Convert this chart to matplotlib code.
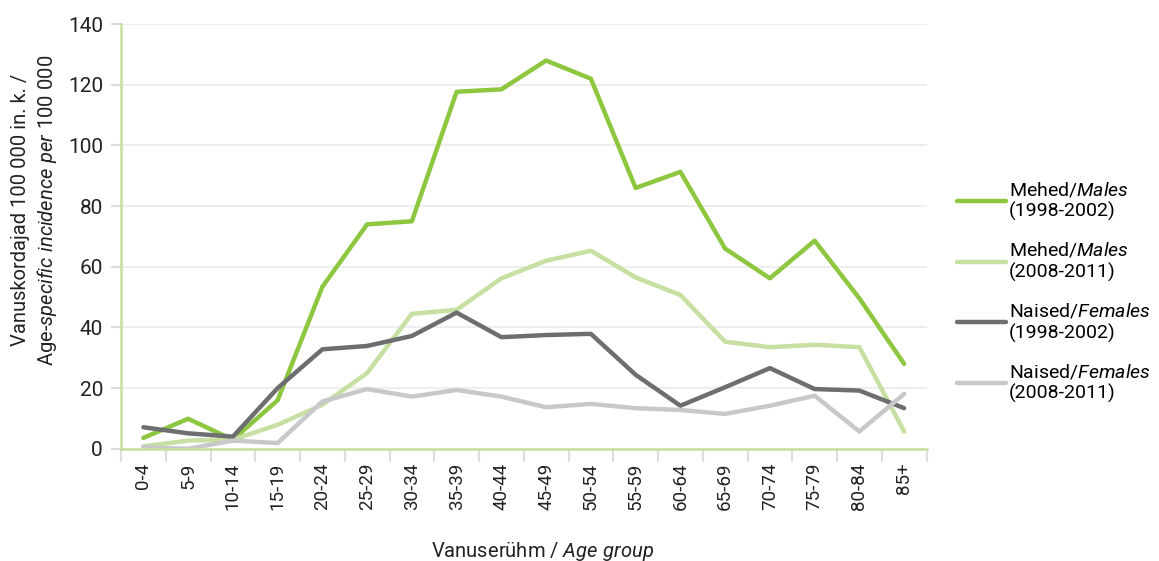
import numpy as np
import matplotlib
matplotlib.use("Agg")
import matplotlib.pyplot as plt
from matplotlib.ticker import FixedLocator

plt.rcParams['font.family'] = ['Roboto', 'DejaVu Sans']
plt.rcParams['mathtext.fontset'] = 'custom'
plt.rcParams['mathtext.rm'] = 'Roboto'
plt.rcParams['mathtext.it'] = 'Roboto:italic'

# age groups
age_groups = ["0-4", "5-9", "10-14", "15-19", "20-24", "25-29", "30-34", "35-39", "40-44",
              "45-49", "50-54", "55-59", "60-64", "65-69", "70-74", "75-79", "80-84", "85+"]

males_1998 = [3.6, 9.9, 3.0, 16.0, 53.4, 74.0, 75.0, 117.7, 118.5,
              128.0, 122.0, 86.0, 91.3, 66.0, 56.2, 68.6, 49.6, 28.0]
males_2008 = [0.8, 2.7, 3.0, 7.9, 14.5, 25.0, 44.5, 45.8, 56.2,
              62.0, 65.3, 56.5, 50.7, 35.3, 33.5, 34.3, 33.5, 5.7]
females_1998 = [7.1, 5.1, 4.0, 20.0, 32.8, 33.9, 37.2, 44.9, 36.8,
                37.5, 37.9, 24.4, 14.2, 20.3, 26.6, 19.7, 19.2, 13.4]
females_2008 = [0.5, 0.0, 2.7, 1.9, 15.6, 19.7, 17.2, 19.4, 17.2,
                13.7, 14.8, 13.4, 12.8, 11.5, 14.2, 17.5, 5.7, 18.1]

labels = [r"Mehed/$\mathit{Males}$" + "\n(1998-2002)",
          r"Mehed/$\mathit{Males}$" + "\n(2008-2011)",
          r"Naised/$\mathit{Females}$" + "\n(1998-2002)",
          r"Naised/$\mathit{Females}$" + "\n(2008-2011)"]
colors = ["#8dc63f", "#c5e0a0", "#6d6e70", "#c8c8ca"]

fig = plt.figure(figsize=(11.59, 5.61), dpi=100)
ax = fig.add_axes([0.1044, 0.2, 0.695, 0.757])

x = np.arange(len(age_groups))
for vals, c, lab in zip([males_1998, males_2008, females_1998, females_2008], colors, labels):
    ax.plot(x, vals, color=c, lw=3.2, label=lab, solid_capstyle='round')

ax.set_xlim(-0.5, len(age_groups) - 0.5)
ax.set_ylim(0, 140)
ax.set_yticks(np.arange(0, 141, 20))
ax.yaxis.grid(True, color="#eeeeee", lw=1.5)
ax.set_axisbelow(True)

ax.set_xticks(x)
ax.set_xticklabels(age_groups, rotation=90, fontsize=13.5, color="#222222")
ax.xaxis.set_minor_locator(FixedLocator(np.arange(-0.5, len(age_groups), 1.0)))
ax.tick_params(axis='x', which='major', length=0, pad=10)
ax.tick_params(axis='x', which='minor', length=9, color="#dddddd", width=1.5)
ax.tick_params(axis='y', length=7, color="#dddddd", width=1.5, labelsize=15,
               labelcolor="#222222", pad=6)

for s in ['top', 'right']:
    ax.spines[s].set_visible(False)
for s in ['left', 'bottom']:
    ax.spines[s].set_color("#c5e0a0")
    ax.spines[s].set_linewidth(1.8)

ax.set_ylabel("Vanuskordajad 100 000 in. k. /\n"
              r"Age-$\mathit{specific\ incidence\ per\ 100\ 000}$",
              fontsize=14.5, color="#222222", linespacing=1.25)
ax.yaxis.set_label_coords(-0.077, 0.562)
ax.set_xlabel(r"Vanuserühm / $\mathit{Age\ group}$", fontsize=14.5, color="#222222")
ax.xaxis.set_label_coords(0.524, -0.215)

fig.legend(loc='center left', bbox_to_anchor=(0.826, 0.48), frameon=False, fontsize=14,
           handlelength=2.5, handletextpad=0.15, labelspacing=1.0, borderaxespad=0,
           borderpad=0)

fig.savefig("out.png", dpi=100)
